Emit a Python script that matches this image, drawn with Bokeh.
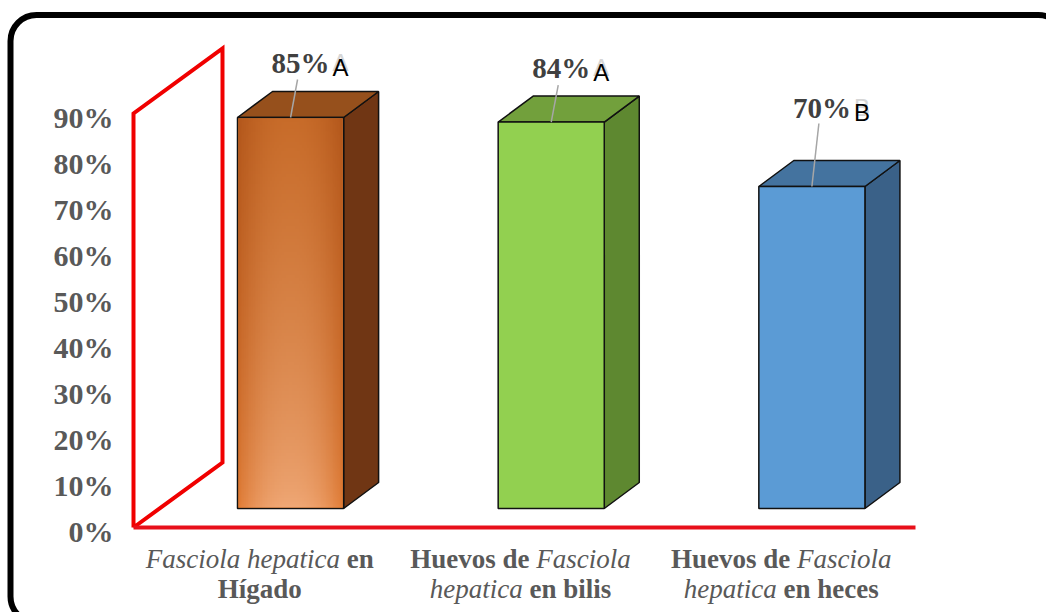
import numpy as np
from bokeh.plotting import figure
from bokeh.models import Range1d, ColumnDataSource
from bokeh.core.properties import value
from bokeh.embed import file_html
from bokeh.resources import INLINE

# ---------------- data ----------------
categories = ["Fasciola hepatica en Hígado",
              "Huevos de Fasciola hepatica en bilis",
              "Huevos de Fasciola hepatica en heces"]
percentages = [85, 84, 70]
sig_letters = ["A", "A", "B"]
y_ticks = [0, 10, 20, 30, 40, 50, 60, 70, 80, 90]
y_tick_labels = [f"{t}%" for t in y_ticks]
category_label_lines = [
    [[("Fasciola hepatica", "italic"), (" en", "bold")], [("Hígado", "bold")]],
    [[("Huevos de ", "bold"), ("Fasciola", "italic")], [("hepatica", "italic"), (" en bilis", "bold")]],
    [[("Huevos de ", "bold"), ("Fasciola", "italic")], [("hepatica", "italic"), (" en heces", "bold")]],
]

# ---------------- styles / layout ----------------
front_colors = ["#D9782F", "#92D050", "#5B9BD5"]
top_colors = ["#96501C", "#72A03C", "#44739F"]
side_colors = ["#703614", "#5E8830", "#3A6188"]
label_gap_px = [55, 54, 79]      # number centre above bar front top
leader_gap_px = [38, 37, 63]     # leader start above bar front top

W, H = 1046, 612
X0_PX = 133.0
SLOT_PX = 782.0 / 3
FLOOR_PY = 527.0
PX_PER_PCT = 4.6


def dx(px):
    return px / SLOT_PX


def dy(px):
    return px / PX_PER_PCT


def to_x(px):
    return (px - X0_PX) / SLOT_PX


def to_y(py):
    return (FLOOR_PY - py) / PX_PER_PCT


p = figure(width=W, height=H, output_backend="svg", toolbar_location=None,
           x_range=Range1d(to_x(0), to_x(W)), y_range=Range1d(to_y(H), to_y(0)),
           x_axis_type=None, y_axis_type=None, min_border=0)
p.grid.visible = False
p.outline_line_color = None
p.background_fill_color = "white"
p.border_fill_color = "white"

# ---- rounded frame ----
p.quad(left=[to_x(10)], right=[to_x(1064)], top=[to_y(14.5)], bottom=[to_y(622)],
       fill_color=None, line_color="black", line_width=6, border_radius=26)

# ---- red side wall and floor line ----
wall_max = y_ticks[-1]
wdx, wdy = dx(89), dy(65)
p.line([0, 0, wdx, wdx, 0], [0, wall_max, wall_max + wdy, wdy, 0],
       line_color="#F00000", line_width=4, line_join="miter")
p.line([0, len(categories)], [0, 0], line_color="#E8101A", line_width=4)

# ---- 3D bars ----
idx = np.arange(len(categories))
vals = np.array(percentages, dtype=float)
left = idx + 0.399
right = idx + 0.806
base = dy(FLOOR_PY - 508)
tops = base + vals
ddx, ddy = dx(35), dy(26)

side_xs = [[r, r, r + ddx, r + ddx] for r in right]
side_ys = [[base, t, t + ddy, base + ddy] for t in tops]
top_xs = [[l, l + ddx, r + ddx, r] for l, r in zip(left, right)]
top_ys = [[t, t + ddy, t + ddy, t] for t in tops]
p.patches(side_xs, side_ys, fill_color=side_colors, line_color="#111111", line_width=1.5)
p.patches(top_xs, top_ys, fill_color=top_colors, line_color="#111111", line_width=1.5)
p.quad(left=left, right=right, bottom=base, top=tops,
       fill_color=front_colors, line_color="#111111", line_width=1.5)

# gradient shading on the orange bar's front face
gw, gh = 60, 120
u = np.linspace(0, 1, gw)
v = np.linspace(0, 1, gh)  # 0 = bottom, 1 = top
hprof = 1 - np.abs(2 * (u - 0.5)) ** 2.2
hprof = np.clip(hprof, 0, 1)
edge_bot = np.array([0xE2, 0x7E, 0x38]); ctr_bot = np.array([0xF0, 0xA8, 0x76])
edge_top = np.array([0xB4, 0x58, 0x1C]); ctr_top = np.array([0xC8, 0x6C, 0x2A])
img = np.zeros((gh, gw), dtype=np.uint32)
view = img.view(dtype=np.uint8).reshape((gh, gw, 4))
for j, vv in enumerate(v):
    t_ = vv ** 0.7
    e = edge_bot + (edge_top - edge_bot) * t_
    c = ctr_bot + (ctr_top - ctr_bot) * t_
    row = e[None, :] + (c - e)[None, :] * hprof[:, None]
    view[j, :, 0:3] = row.astype(np.uint8)
    view[j, :, 3] = 255
p.image_rgba(image=[img], x=left[0] + dx(1), y=base + dy(1),
             dw=(right[0] - left[0]) - dx(2), dh=vals[0] - dy(2))

# ---- leader lines and data labels ----
centers = (left + right) / 2
lead_top = np.array([tops[i] + dy(leader_gap_px[i]) for i in range(len(vals))])
p.segment(x0=centers + dx(7), y0=lead_top, x1=centers, y1=tops,
          line_color="#A6A6A6", line_width=1.5)

num_y = np.array([tops[i] + dy(label_gap_px[i]) for i in range(len(vals))])
let_y = num_y - dy(4.5)
p.text(x=centers + dx(10), y=num_y, text=[f"{int(v_)}%" for v_ in percentages],
       text_font=value("Liberation Serif"), text_font_style="bold",
       text_font_size="29px", text_color="#404040",
       text_align="center", text_baseline="middle")
p.text(x=centers + dx(42), y=let_y + dy(5), text=sig_letters,
       text_font=value("Liberation Sans"), text_font_size="24px",
       text_color="#D6D6D6", text_align="left", text_baseline="middle")
p.text(x=centers + dx(42), y=let_y, text=sig_letters,
       text_font=value("Liberation Sans"), text_font_size="24px",
       text_color="black", text_align="left", text_baseline="middle")

# ---- y tick labels ----
p.text(x=[to_x(113)] * len(y_ticks), y=[t - dy(3.5) for t in y_ticks], text=y_tick_labels,
       text_font=value("Liberation Serif"), text_font_style="bold",
       text_font_size="30px", text_color="#595959",
       text_align="right", text_baseline="middle")

# ---- category labels (mixed italic / bold) ----
BOLD = {" ": 250, "H": 778, "F": 611, "a": 500, "b": 556, "c": 444, "d": 556, "e": 444,
        "g": 500, "h": 556, "i": 278, "l": 278, "n": 556, "o": 500, "p": 556, "s": 389,
        "t": 333, "u": 556, "v": 500, "í": 278}
ITAL = {" ": 250, "F": 611, "a": 500, "c": 444, "e": 444, "h": 500, "i": 278, "l": 278,
        "o": 500, "p": 500, "s": 389, "t": 278}
FS = 27.0
line_centers_py = [558, 588]

seg = dict(x=[], y=[], text=[], style=[])
for i, lines in enumerate(category_label_lines):
    cx_px = X0_PX + (i + 0.5) * SLOT_PX - 4
    for li, segments in enumerate(lines):
        widths = []
        for txt, st in segments:
            tab = BOLD if st == "bold" else ITAL
            widths.append(sum(tab.get(ch, 500) for ch in txt) * FS / 1000.0)
        x_px = cx_px - sum(widths) / 2
        for (txt, st), w in zip(segments, widths):
            tab = BOLD if st == "bold" else ITAL
            lead = len(txt) - len(txt.lstrip(" "))
            shown = txt.strip(" ")
            seg["x"].append(to_x(x_px + lead * tab[" "] * FS / 1000.0))
            seg["y"].append(to_y(line_centers_py[li]))
            seg["text"].append(shown)
            seg["style"].append(st)
            x_px += w

src = ColumnDataSource(seg)
p.text(x="x", y="y", text="text", source=src, text_font=value("Liberation Serif"),
       text_font_style="style", text_font_size=f"{FS}px", text_color="#595959",
       text_align="left", text_baseline="middle")

open("out.html", "w").write(file_html(p, INLINE))
